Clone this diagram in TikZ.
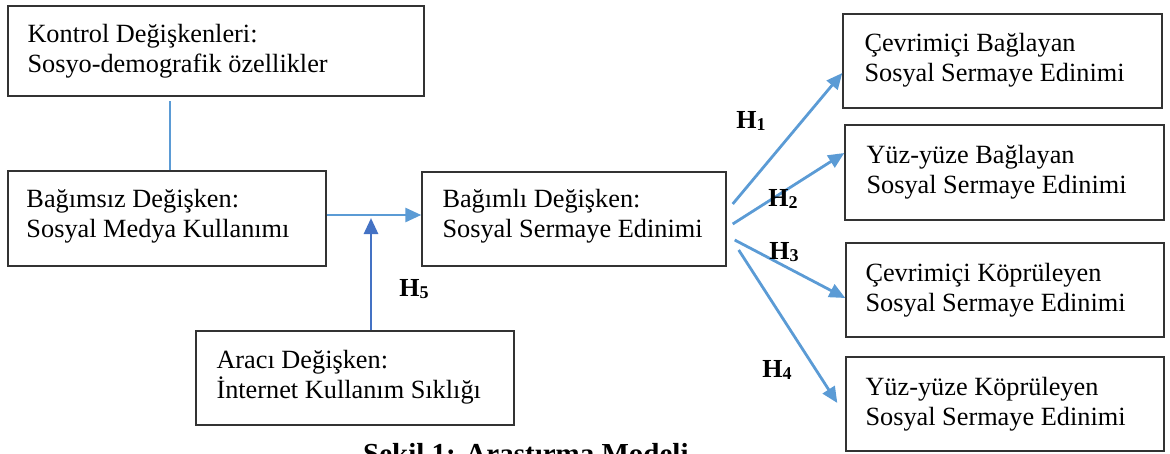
\documentclass[tikz,border=0pt]{standalone}
\usepackage{fontspec}
\setmainfont{Liberation Serif}
\usetikzlibrary{arrows.meta}
\definecolor{lblue}{HTML}{5B9BD5}
\definecolor{dblue}{HTML}{4472C4}
\definecolor{boxc}{HTML}{333333}
\newcommand{\hyp}[1]{H\raisebox{-2.5pt}{\fontsize{18}{18}\selectfont #1}}
\tikzset{
  varbox/.style={draw=boxc, line width=1.4pt, rectangle, inner sep=0pt},
  vartext/.style={anchor=west, align=left, inner sep=0pt, font=\fontsize{26.3}{30}\selectfont},
  conn/.style={draw=lblue, line width=2.8pt},
  arr/.style={conn, -{Triangle[length=16pt,width=14pt]}},
  harr/.style={draw=dblue, line width=2.8pt, -{Triangle[length=16pt,width=14pt]}},
  hlab/.style={font=\fontsize{26}{26}\selectfont\bfseries, inner sep=0pt},
}
\begin{document}
\begin{tikzpicture}[x=1pt,y=-1pt]
\useasboundingbox (0,0) rectangle (1170,453);
\node[varbox, minimum width=416pt, minimum height=90pt] (ctrl) at (216,51) {};
\node[varbox, minimum width=318pt, minimum height=95pt] (ind) at (167,218.5) {};
\node[varbox, minimum width=304pt, minimum height=94pt] (dep) at (574,219) {};
\node[varbox, minimum width=318pt, minimum height=94pt] (med) at (355,378) {};
\node[varbox, minimum width=319pt, minimum height=94pt] (r1) at (1002.5,61) {};
\node[varbox, minimum width=319pt, minimum height=95pt] (r2) at (1004.5,172.5) {};
\node[varbox, minimum width=318pt, minimum height=94pt] (r3) at (1005,290) {};
\node[varbox, minimum width=318pt, minimum height=94pt] (r4) at (1005,404) {};

\node[vartext] (ctrlT) at ([xshift=20pt]ctrl.west) {Kontrol Değişkenleri:\\Sosyo-demografik özellikler};
\node[vartext] (indT) at ([xshift=19pt,yshift=2pt]ind.west) {Bağımsız Değişken:\\Sosyal Medya Kullanımı};
\node[vartext] (depT) at ([xshift=21pt,yshift=3pt]dep.west) {Bağımlı Değişken:\\Sosyal Sermaye Edinimi};
\node[vartext] (medT) at ([xshift=21pt,yshift=1pt]med.west) {Aracı Değişken:\\İnternet Kullanım Sıklığı};
\node[vartext] (r1T) at ([xshift=22pt,yshift=1pt]r1.west) {Çevrimiçi Bağlayan\\Sosyal Sermaye Edinimi};
\node[vartext] (r2T) at ([xshift=22pt]r2.west) {Yüz-yüze Bağlayan\\Sosyal Sermaye Edinimi};
\node[vartext] (r3T) at ([xshift=20pt]r3.west) {Çevrimiçi Köprüleyen\\Sosyal Sermaye Edinimi};
\node[vartext] (r4T) at ([xshift=20pt]r4.west) {Yüz-yüze Köprüleyen\\Sosyal Sermaye Edinimi};

% connectors
\coordinate (ctop) at ([yshift=-4pt]ctrl.south);
\coordinate (ibot) at ([xshift=3pt]ind.north);
\draw[conn] (ibot) -- (ibot |- ctop);
\draw[arr] ([yshift=3.5pt]ind.east) -- ([yshift=3.5pt]ind.east -| dep.west);
\coordinate (m) at (371,218);
\draw[harr] (med.north -| m) -- (m);
\draw[arr] ([xshift=6pt,yshift=15pt]dep.east) -- ([yshift=-12pt]r1.west);
\draw[arr] ([xshift=6pt,yshift=-5pt]dep.east) -- ([yshift=19.5pt]r2.west);
\draw[arr] ([xshift=8pt,yshift=-21pt]dep.east) -- ([yshift=-8pt]r3.west);
\draw[arr] ([xshift=12pt,yshift=-31pt]dep.east) -- ([xshift=-8pt,yshift=1pt]r4.west);

% labels
\node[hlab] (h1) at (751,121) {\hyp{1}};
\node[hlab] (h2) at (783,199) {\hyp{2}};
\node[hlab] (h3) at (784,252) {\hyp{3}};
\node[hlab] (h4) at (777,370) {\hyp{4}};
\node[hlab] (h5) at (414,289) {\hyp{5}};

\node[font=\fontsize{29}{29}\selectfont\bfseries, anchor=base west, inner sep=0pt] (cap) at (363,463) {Şekil 1: Araştırma Modeli};
\end{tikzpicture}
\end{document}
